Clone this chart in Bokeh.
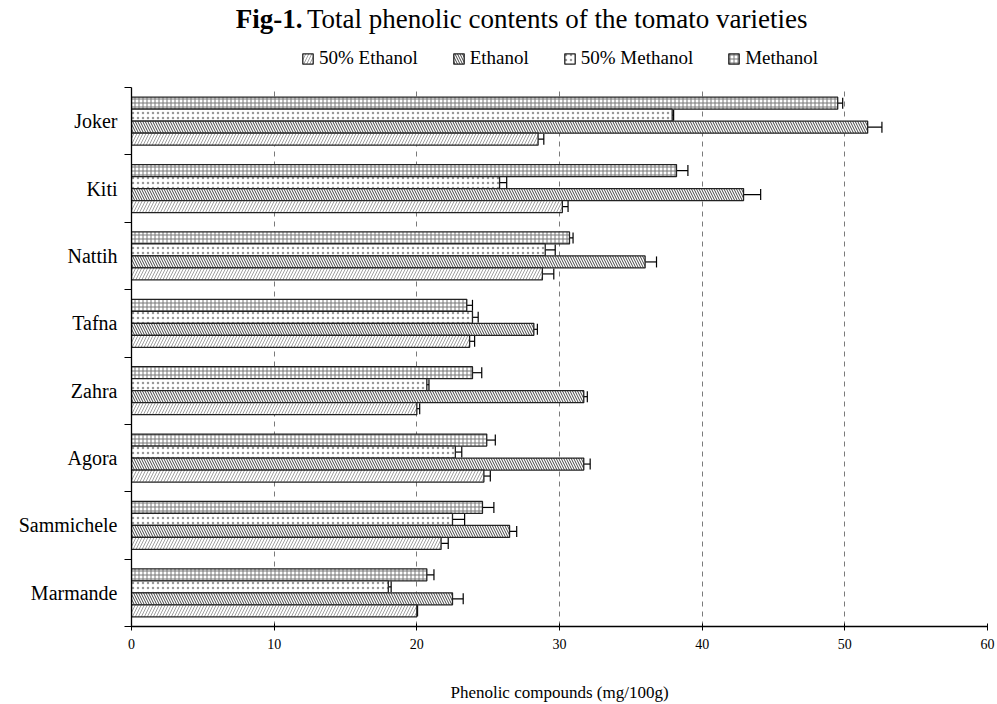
from bokeh.plotting import figure
from bokeh.models import (FixedTicker, Whisker, TeeHead, ColumnDataSource,
                          Legend, LegendItem, Label)
from bokeh.embed import file_html
from bokeh.resources import INLINE

varieties = ["Joker", "Kiti", "Nattih", "Tafna", "Zahra", "Agora", "Sammichele", "Marmande"]
series_names = ["Methanol", "50% Methanol", "Ethanol", "50% Ethanol"]
methanol = [49.5, 38.2, 30.7, 23.5, 23.9, 24.9, 24.6, 20.7]
methanol_err = [0.35, 0.8, 0.25, 0.4, 0.65, 0.6, 0.8, 0.5]
methanol50 = [37.9, 25.8, 29.0, 23.9, 20.7, 22.7, 22.5, 18.0]
methanol50_err = [0.1, 0.5, 0.7, 0.4, 0.15, 0.45, 0.85, 0.2]
ethanol = [51.6, 42.9, 36.0, 28.2, 31.7, 31.7, 26.5, 22.5]
ethanol_err = [1.0, 1.2, 0.8, 0.25, 0.25, 0.45, 0.5, 0.75]
ethanol50 = [28.5, 30.2, 28.8, 23.7, 20.0, 24.7, 21.7, 20.0]
ethanol50_err = [0.4, 0.4, 0.8, 0.35, 0.2, 0.45, 0.5, 0.05]
x_ticks = [0, 10, 20, 30, 40, 50, 60]

FONT = "Liberation Serif"
n = len(varieties)
centers = [n - 0.5 - i for i in range(n)]

FRAME_H = 626          # frame spans title + legend area too
PLOT_H = 539           # height of the bar area
y_top = n * FRAME_H / PLOT_H

p = figure(frame_width=856, frame_height=FRAME_H, x_range=(0, 60), y_range=(0, y_top),
           output_backend="svg", toolbar_location=None,
           min_border_left=131, min_border_right=10,
           min_border_top=0, min_border_bottom=78)
p.outline_line_color = None
p.background_fill_color = "white"
p.border_fill_color = "white"

# grid
p.ygrid.grid_line_color = None
p.xgrid.ticker = FixedTicker(ticks=x_ticks[1:])
p.xgrid.grid_line_color = "#7a7a7a"
p.xgrid.grid_line_dash = "5 5"
p.xgrid.grid_line_width = 1
p.xgrid.cross_bounds = (0, n)

# x axis
p.xaxis.ticker = FixedTicker(ticks=x_ticks)
p.xaxis.axis_line_color = "black"
p.xaxis.axis_line_width = 1.6
p.xaxis.major_tick_line_color = "black"
p.xaxis.major_tick_in = 3
p.xaxis.major_tick_out = 4
p.xaxis.minor_tick_line_color = None
p.xaxis.major_label_text_font = FONT
p.xaxis.major_label_text_font_size = "14px"
p.xaxis.major_label_text_color = "black"
p.xaxis.major_label_standoff = 8
p.xaxis.axis_label = "Phenolic compounds (mg/100g)"
p.xaxis.axis_label_text_font = FONT
p.xaxis.axis_label_text_font_size = "17px"
p.xaxis.axis_label_text_font_style = "normal"
p.xaxis.axis_label_text_color = "black"
p.xaxis.axis_label_standoff = 31

# y axis: labels at centres, ticks at category boundaries
p.yaxis.bounds = (0, n)
p.yaxis.ticker = FixedTicker(ticks=centers, minor_ticks=list(range(n + 1)))
p.yaxis.major_label_overrides = {c: v for c, v in zip(centers, varieties)}
p.yaxis.major_tick_line_color = None
p.yaxis.minor_tick_line_color = "black"
p.yaxis.minor_tick_in = 0
p.yaxis.minor_tick_out = 7
p.yaxis.axis_line_color = "black"
p.yaxis.axis_line_width = 1.3
p.yaxis.major_label_text_font = FONT
p.yaxis.major_label_text_font_size = "20px"
p.yaxis.major_label_text_color = "black"
p.yaxis.major_label_standoff = 7

bar_h = 0.178
offsets = [1.5 * bar_h, 0.5 * bar_h, -0.5 * bar_h, -1.5 * bar_h]
values = [methanol, methanol50, ethanol, ethanol50]
errors = [methanol_err, methanol50_err, ethanol_err, ethanol50_err]
styles = [
    dict(hatch_pattern="+", hatch_scale=4, hatch_weight=1.0, hatch_color="#777"),
    dict(hatch_pattern=".", hatch_scale=5, hatch_weight=0.6, hatch_color="#999"),
    dict(hatch_pattern="\\", hatch_scale=5, hatch_weight=1.0, hatch_color="#444"),
    dict(hatch_pattern="/", hatch_scale=6, hatch_weight=0.8, hatch_color="#888"),
]

renderers = {}
for name, vals, errs, off, st in zip(series_names, values, errors, offsets, styles):
    src = ColumnDataSource(dict(
        y=[c + off for c in centers], v=vals,
        lo=[a - b for a, b in zip(vals, errs)],
        hi=[a + b for a, b in zip(vals, errs)]))
    r = p.hbar(y="y", right="v", left=0, height=bar_h, source=src,
               fill_color="white", line_color="#222", line_width=1.3, **st)
    renderers[name] = r
    w = Whisker(base="y", lower="lo", upper="hi", dimension="width", source=src,
                line_color="black", line_width=1.2,
                upper_head=TeeHead(size=11, line_color="black", line_width=1.2),
                lower_head=TeeHead(size=11, line_color="black", line_width=1.2))
    p.add_layout(w)

legend_order = ["50% Ethanol", "Ethanol", "50% Methanol", "Methanol"]
legend = Legend(items=[LegendItem(label=nm, renderers=[renderers[nm]]) for nm in legend_order],
                orientation="horizontal", location=(170, 557),
                label_text_font=FONT, label_text_font_size="19px",
                label_text_color="black",
                glyph_width=13, glyph_height=13, label_standoff=5,
                spacing=34, padding=2, margin=0, border_line_color=None,
                background_fill_alpha=0)
p.add_layout(legend, "center")

title_y = (FRAME_H - 18) / PLOT_H * n
t1 = Label(x=7.3, y=title_y, text="Fig-1.", text_font=FONT, text_font_size="27px",
           text_font_style="bold", text_baseline="middle", text_align="left",
           text_color="black")
t2 = Label(x=12.3, y=title_y, text="Total phenolic contents of the tomato varieties",
           text_font=FONT, text_font_size="27px", text_baseline="middle",
           text_align="left", text_color="black")
p.add_layout(t1)
p.add_layout(t2)

open("out.html", "w").write(file_html(p, INLINE))
